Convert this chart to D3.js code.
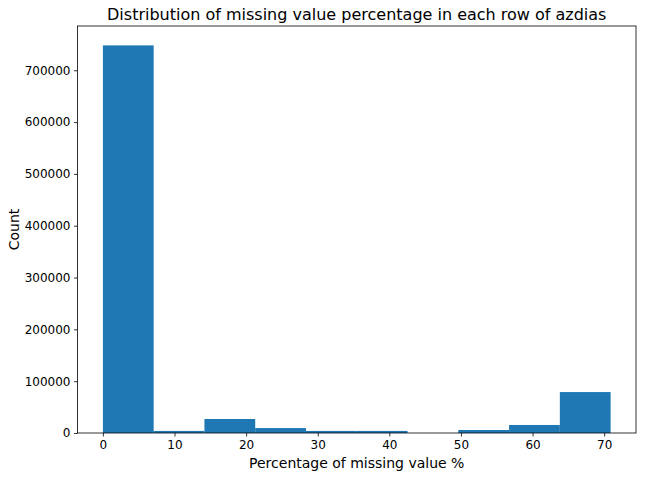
<!DOCTYPE html>
<html>
<head>
<meta charset="utf-8">
<script src="https://d3js.org/d3.v7.min.js"></script>
<style>
  body { margin: 0; background: #fff; }
  text { font-family: "DejaVu Sans", sans-serif; fill: #000; }
</style>
</head>
<body>
<svg id="chart" width="646" height="477"></svg>
<script>
// histogram bins (edges) and counts
const binEdges = [0, 7.09, 14.18, 21.27, 28.36, 35.45, 42.54, 49.63, 56.72, 63.81, 70.9]
const counts = [748000, 4000, 27000, 9500, 4000, 4000, 0, 5800, 15500, 79000]
const xTicks = [0, 10, 20, 30, 40, 50, 60, 70]
const yTicks = [0, 100000, 200000, 300000, 400000, 500000, 600000, 700000]

var svg = d3.select("#chart"),
    margin = {top: 26, right: 10, bottom: 44, left: 77.5},
    width = 646 - margin.left - margin.right,
    height = 477 - margin.top - margin.bottom

var g = svg.append("g")
    .attr("transform", "translate(" + margin.left + "," + margin.top + ")")

var xMax = binEdges[binEdges.length - 1]
var x = d3.scaleLinear()
    .domain([-0.05 * xMax, xMax * 1.05])
    .range([0, width])

var yMax = d3.max(counts)
var y = d3.scaleLinear()
    .domain([0, yMax * 1.05])
    .range([height, 0])

var bins = counts.map((c, i) => ({x0: binEdges[i], x1: binEdges[i + 1], n: c}))

g.selectAll("rect.bar")
    .data(bins)
    .enter().append("rect")
    .attr("class", "bar")
    .attr("x", d => x(d.x0))
    .attr("width", d => x(d.x1) - x(d.x0))
    .attr("y", d => y(d.n))
    .attr("height", d => y(0) - y(d.n))
    .attr("fill", "#1f77b4")

// axes
var xAxis = g.append("g")
    .attr("transform", "translate(0," + height + ")")
    .call(d3.axisBottom(x).tickValues(xTicks).tickSize(3.5).tickPadding(3.5).tickSizeOuter(0))
var yAxis = g.append("g")
    .call(d3.axisLeft(y).tickValues(yTicks).tickSize(3.5).tickPadding(3.5).tickSizeOuter(0).tickFormat(d3.format("d")))

;[xAxis, yAxis].forEach(a => {
    a.select(".domain").remove()
    a.selectAll("text").style("font-size", "12px").style("fill", "#000")
    a.selectAll("line").attr("stroke", "#000").attr("stroke-width", 0.8)
})

// frame
g.append("rect")
    .attr("width", width)
    .attr("height", height)
    .attr("fill", "none")
    .attr("stroke", "#000")
    .attr("stroke-width", 0.8)

// title and labels
svg.append("text")
    .attr("x", margin.left + width / 2)
    .attr("y", 20)
    .attr("text-anchor", "middle")
    .style("font-size", "16px")
    .text("Distribution of missing value percentage in each row of azdias")

svg.append("text")
    .attr("x", margin.left + width / 2)
    .attr("y", 468)
    .attr("text-anchor", "middle")
    .style("font-size", "14px")
    .text("Percentage of missing value %")

svg.append("text")
    .attr("transform", "translate(19," + (margin.top + height / 2) + ") rotate(-90)")
    .attr("text-anchor", "middle")
    .style("font-size", "14px")
    .text("Count")
</script>
</body>
</html>
